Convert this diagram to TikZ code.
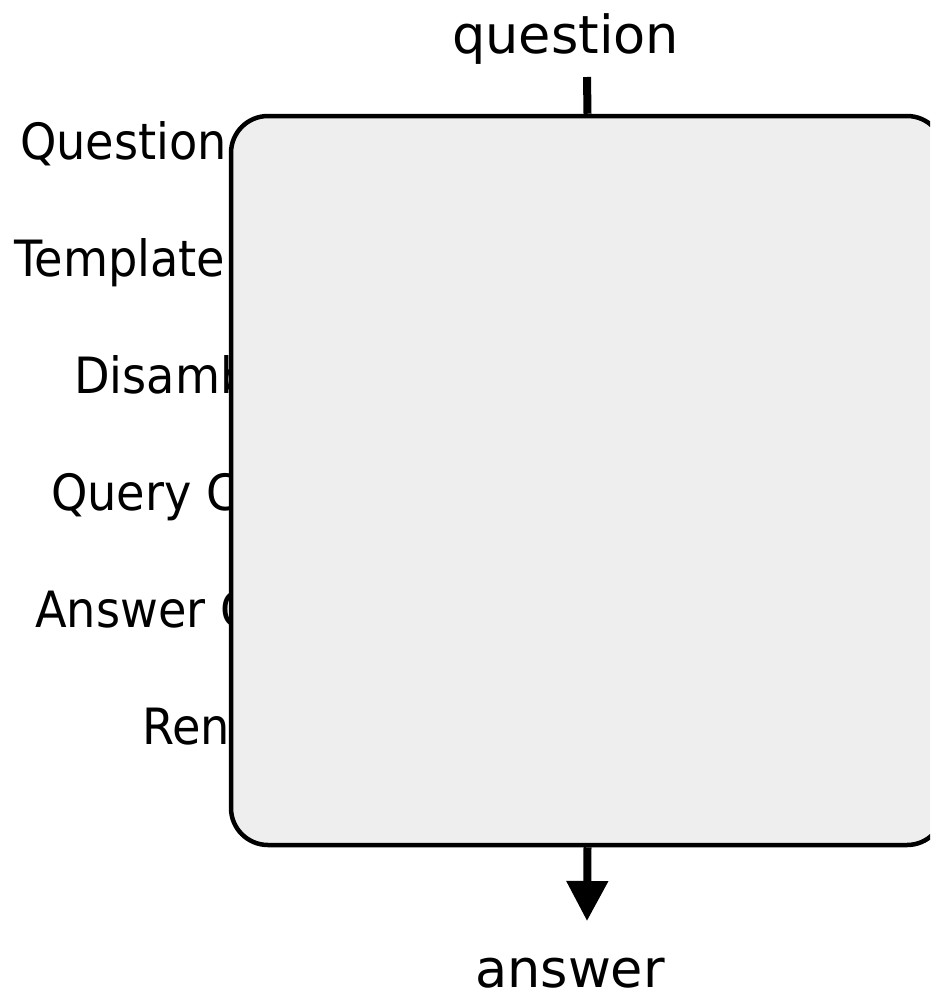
\documentclass[tikz,border=0pt]{standalone}
\usepackage{fontspec}
\setmainfont{DejaVu Sans}
\newfontfamily\labfont[FakeStretch=0.925]{DejaVu Sans}
\usetikzlibrary{arrows.meta}
\definecolor{boxfill}{HTML}{EEEEEE}
\tikzset{
  lab/.style={anchor=base west, inner sep=0pt, font=\labfont\fontsize{50}{60}\selectfont},
  io/.style={anchor=base west, inner sep=0pt, font=\fontsize{52.5}{62}\selectfont},
  stage/.style={draw=black, line width=4.5pt, fill=boxfill, rounded corners=37pt,
    minimum width=713pt, minimum height=729pt, inner sep=0pt},
  flow/.style={line width=8pt},
}
\begin{document}
\begin{tikzpicture}[x=1pt,y=-1pt]
\useasboundingbox (0,0) rectangle (930,998);
\clip (0,0) rectangle (930,998);
\node[io] (q) at (452,53) {question};
\node[io] (a) at (475,987) {answer};
\node[lab] (l1) at (20,159) {Question};
\node[lab] (l2) at (14,276) {Template};
\node[lab] (l3) at (74,393) {Disamb};
\node[lab] (l4) at (51,510) {Query C};
\node[lab] (l5) at (35,627) {Answer G};
\node[lab] (l6) at (142,744) {Ren};
\node[stage] (box) at (587.5,480.5) {};
\coordinate (qin) at (587,77);
\coordinate (aout) at (587,921);
\draw[flow] (qin) -- (box.north);
\draw[flow, -{Triangle[length=40pt,width=40pt]}] (box.south) -- (aout);
\end{tikzpicture}
\end{document}
